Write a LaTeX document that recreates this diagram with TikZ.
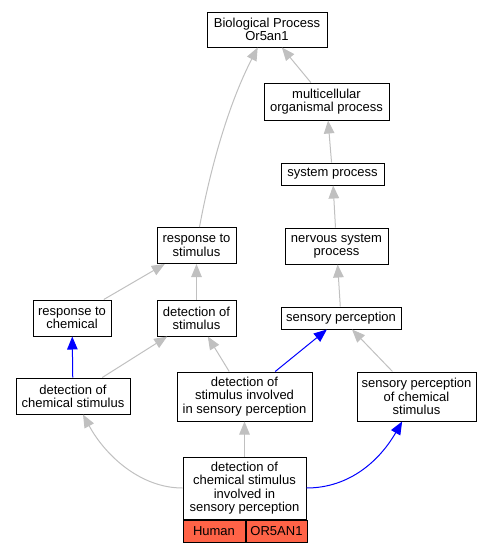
\documentclass[tikz,border=0pt]{standalone}
\usepackage{fontspec}
\setmainfont{Liberation Sans}
\usetikzlibrary{positioning}
\usetikzlibrary{arrows.meta}
\definecolor{edgegray}{HTML}{C0C0C0}
\definecolor{tomato}{HTML}{FF6347}
\tikzset{tb/.style={draw=black,line width=1pt,fill=white,align=center,inner
sep=0pt,font=\fontsize{13}{13.3}\selectfont}}
\tikzset{hc/.style={tb,fill=tomato,minimum height=22pt}}
\tikzset{ge/.style={draw=edgegray,line width=1pt,-{Triangle[length=13pt,width=10.5pt]}}}
\tikzset{be/.style={ge,draw=blue}}

\begin{document}
\begin{tikzpicture}[x=1pt,y=-1pt]
\useasboundingbox (0,0) rectangle (493,552);
\node[tb,minimum width=120pt,minimum height=35pt] (bp) at (267,29.5)
{Biological Process\\Or5an1};
\node[tb,minimum width=125pt,minimum height=37pt] (mult) at (326.5,101.5)
{multicellular\\organismal process};
\node[tb,minimum width=103pt,minimum height=22pt] (sys) at (332.5,174)
{system process};
\node[tb,minimum width=103pt,minimum height=36pt] (nerv) at (336.5,246)
{nervous system\\process};
\node[tb,minimum width=79pt,minimum height=36pt] (resp) at (196.5,245.5)
{response to\\stimulus};
\node[tb,minimum width=78pt,minimum height=36pt] (rchem) at (72,318)
{response to\\chemical};
\node[tb,minimum width=79pt,minimum height=36pt] (dstim) at (196.5,318)
{detection of\\stimulus};
\node[tb,minimum width=120pt,minimum height=22pt] (sens) at (341,318)
{sensory perception};
\node[tb,minimum width=114pt,minimum height=36pt] (dchem) at (73,396)
{detection of\\chemical stimulus};
\node[tb,minimum width=135pt,minimum height=49pt] (dinv) at (244.5,396.5)
{detection of\\stimulus involved\\in sensory perception};
\node[tb,minimum width=119pt,minimum height=49pt] (schem) at (416.5,396.5)
{sensory perception\\of chemical\\stimulus};
\node[tb,minimum width=123pt,minimum height=62pt] (dcsp) at (244.5,488)
{detection of\\chemical stimulus\\involved in\\sensory perception};

\node [hc, minimum width=62pt, below=0pt of dcsp.south west, anchor=north west] (hum) {Human};
\node [hc, minimum width=61pt, right=0pt of hum.east, anchor=west] (gene) {OR5AN1};

\draw[ge] (mult) -- (bp);
\draw[ge] ([xshift=3pt]resp.north) .. controls (210,170) and (228,105) .. (bp);
\draw[ge] (sys) -- (mult);
\draw[ge] (nerv) -- (sys);
\draw[ge] (sens) -- (nerv);
\draw[ge] (rchem) -- (resp);
\draw[ge] (dstim) -- (resp);
\draw[be] (dchem) -- (rchem);
\draw[ge] (dchem) -- (dstim);
\draw[ge] (dinv) -- (dstim);
\draw[be] (dinv) -- (sens);
\draw[ge] (schem) -- (sens);
\draw[ge] (dcsp.west) .. controls (140,488) and (105,455) .. (dchem);
\draw[ge] (dcsp) -- (dinv);
\draw[be] (dcsp.east) .. controls (350,488) and (380,460) .. (schem);
\end{tikzpicture}
\end{document}
